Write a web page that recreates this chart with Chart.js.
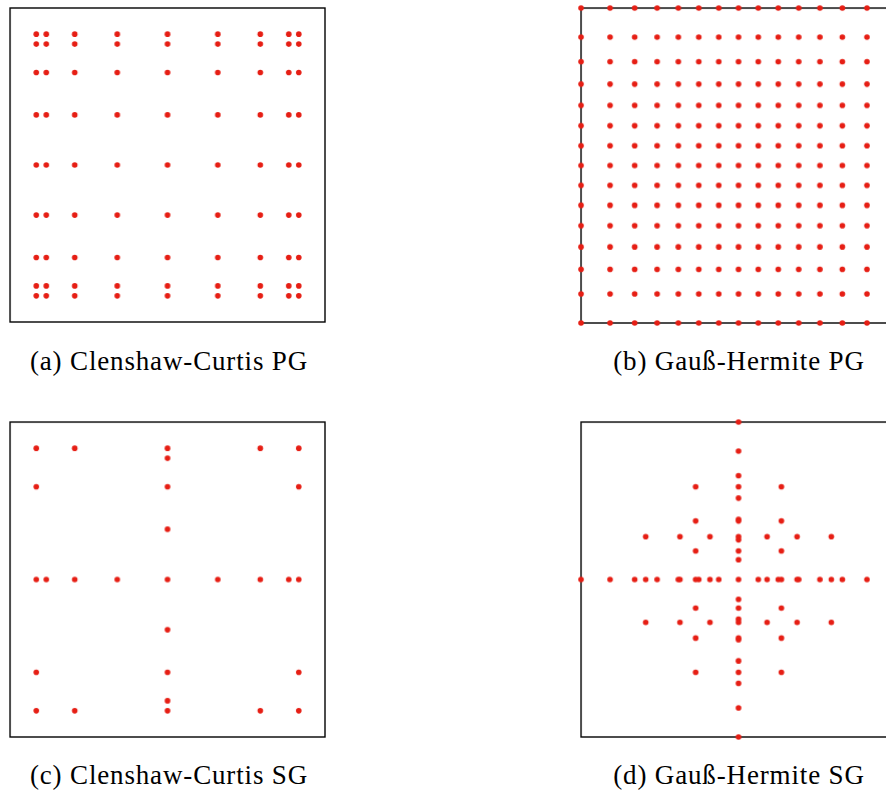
<!DOCTYPE html>
<html>
<head>
<meta charset="utf-8">
<script src="https://cdn.jsdelivr.net/npm/chart.js@4/dist/chart.umd.min.js"></script>
<style>
  html, body { margin: 0; padding: 0; background: #fff; width: 886px; height: 791px; overflow: hidden; }
  .panel { position: absolute; }
  .cap {
    position: absolute; width: 400px; text-align: center;
    font-family: "Liberation Serif", "DejaVu Serif", serif; font-size: 27px;
    letter-spacing: 0.85px; line-height: 27px; color: #000; white-space: nowrap;
  }
</style>
</head>
<body>
<canvas id="pa" class="panel"></canvas>
<canvas id="pb" class="panel"></canvas>
<canvas id="pc" class="panel"></canvas>
<canvas id="pd" class="panel"></canvas>
<div class="cap" id="ca"></div>
<div class="cap" id="cb"></div>
<div class="cap" id="cc"></div>
<div class="cap" id="cd"></div>
<script>
// Clenshaw-Curtis nodes on [-1, 1], nested levels
const cc1 = [0];
const cc3 = [-1, 0, 1];
const cc5 = [-1, -0.707, 0, 0.707, 1];
const cc9 = [-1, -0.924, -0.707, -0.383, 0, 0.383, 0.707, 0.924, 1];

// Gauss-Hermite nodes (1, 3, 7 and 15 points)
const gh1 = [0];
const gh3 = [-1.225, 0, 1.225];
const gh7 = [-2.652, -1.674, -0.816, 0, 0.816, 1.674, 2.652];
const gh15 = [-4.5, -3.67, -2.967, -2.326, -1.72, -1.136, -0.565, 0,
              0.565, 1.136, 1.72, 2.326, 2.967, 3.67, 4.5];

// Sparse grids as unions of tensor blocks [x nodes, y nodes]
const ccSparseBlocks = [[cc9, cc1], [cc1, cc9], [cc5, cc3], [cc3, cc5]];
const ghSparseBlocks = [[gh15, gh1], [gh1, gh15], [gh7, gh3], [gh3, gh7]];

// Axis limits of each panel
const ccLimit = 1.2;
const ghLimit = 4.5;

const captions = ["(a) Clenshaw-Curtis PG", "(b) Gauß-Hermite PG",
                  "(c) Clenshaw-Curtis SG", "(d) Gauß-Hermite SG"];

function tensor(xs, ys) {
  const pts = [];
  for (const y of ys) for (const x of xs) pts.push({ x, y });
  return pts;
}
function sparse(blocks) {
  const seen = new Set(), pts = [];
  for (const [xs, ys] of blocks) {
    for (const p of tensor(xs, ys)) {
      const k = p.x + ',' + p.y;
      if (!seen.has(k)) { seen.add(k); pts.push(p); }
    }
  }
  return pts;
}

// Frame around the plotting area, drawn beneath the points
const framePlugin = {
  id: 'frame',
  beforeDatasetsDraw(chart) {
    const a = chart.chartArea, ctx = chart.ctx;
    ctx.save();
    ctx.strokeStyle = '#000';
    ctx.lineWidth = 1.4;
    ctx.strokeRect(a.left, a.top, a.right - a.left, a.bottom - a.top);
    ctx.restore();
  }
};

const PAD = 10;
const SIZE = 314.5;
function panel(id, box, points, lim) {
  const cv = document.getElementById(id);
  const w = SIZE + 2 * PAD, h = SIZE + 2 * PAD;
  cv.width = w; cv.height = h;
  cv.style.width = w + 'px'; cv.style.height = h + 'px';
  cv.style.left = (box.left - PAD) + 'px';
  cv.style.top = (box.top - PAD) + 'px';
  new Chart(cv, {
    type: 'scatter',
    data: { datasets: [{
      data: points,
      pointRadius: 2.8,
      pointHoverRadius: 2.8,
      pointBorderWidth: 0,
      backgroundColor: '#e61e14',
      borderColor: '#e61e14',
      clip: false
    }] },
    options: {
      responsive: false,
      animation: false,
      devicePixelRatio: 1,
      layout: { padding: PAD },
      plugins: { legend: { display: false }, tooltip: { enabled: false } },
      events: [],
      scales: {
        x: { type: 'linear', min: -lim, max: lim, display: false },
        y: { type: 'linear', min: -lim, max: lim, display: false }
      }
    },
    plugins: [framePlugin]
  });
}

panel('pa', { left: 10, top: 7.5 }, tensor(cc9, cc9), ccLimit);
panel('pb', { left: 581.3, top: 8 }, tensor(gh15, gh15), ghLimit);
panel('pc', { left: 10, top: 422.3 }, sparse(ccSparseBlocks), ccLimit);
panel('pd', { left: 581.3, top: 422.3 }, sparse(ghSparseBlocks), ghLimit);

const capPos = [[169, 348], [739, 348], [169, 762], [739, 762]];
['ca', 'cb', 'cc', 'cd'].forEach((id, i) => {
  const el = document.getElementById(id);
  el.textContent = captions[i];
  el.style.left = (capPos[i][0] - 200) + 'px';
  el.style.top = capPos[i][1] + 'px';
});
</script>
</body>
</html>
